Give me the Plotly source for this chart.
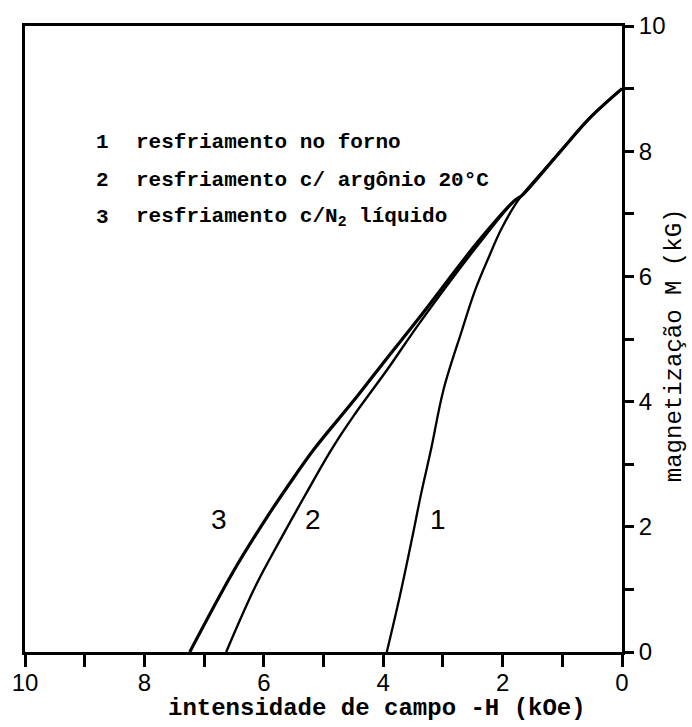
import plotly.graph_objects as go

# Demagnetization curves: field -H (kOe) vs magnetization M (kG)
h_forno = [3.94, 3.72, 3.52, 3.36, 3.20, 2.99, 2.68, 2.46, 2.23, 2.03, 1.80, 1.68, 1.02, 0.53, 0.0]
m_forno = [0.00, 0.90, 1.80, 2.55, 3.23, 4.19, 5.14, 5.78, 6.31, 6.74, 7.13, 7.29, 8.01, 8.54, 9.0]

h_argonio = [6.63, 6.14, 5.69, 5.31, 4.87, 4.49, 3.94, 3.38, 2.39, 1.80, 1.68, 1.02, 0.53, 0.0]
m_argonio = [0.00, 1.05, 1.85, 2.50, 3.23, 3.78, 4.50, 5.27, 6.53, 7.21, 7.29, 8.01, 8.54, 9.0]

h_n2 = [7.24, 6.52, 5.97, 5.59, 5.15, 4.49, 3.94, 3.38, 2.39, 1.80, 1.68, 1.02, 0.53, 0.0]
m_n2 = [0.00, 1.27, 2.12, 2.66, 3.25, 4.02, 4.69, 5.36, 6.58, 7.21, 7.29, 8.01, 8.54, 9.0]

curve_labels = ["1", "2", "3"]
curve_label_h = [3.09, 5.18, 6.75]
curve_label_m = [2.12, 2.12, 2.12]

legend_numbers = ["1", "2", "3"]
legend_texts = [
    "resfriamento no forno",
    "resfriamento c/ argônio 20°C",
    "resfriamento c/N<sub>2</sub> líquido",
]
legend_m = [8.14, 7.53, 6.94]

x_title = "intensidade de campo -H (kOe)"
y_title = "magnetização M (kG)"

mono = "Liberation Mono"
sans = "Liberation Sans"

fig = go.Figure()
for h, m, w in [(h_forno, m_forno, 2.3), (h_argonio, m_argonio, 2.4), (h_n2, m_n2, 3.2)]:
    fig.add_trace(go.Scatter(
        x=h, y=m, mode="lines",
        line=dict(color="black", width=w, shape="spline", smoothing=1.0),
        showlegend=False, hoverinfo="skip",
    ))

annotations = []
for lab, h, m in zip(curve_labels, curve_label_h, curve_label_m):
    annotations.append(dict(x=h, y=m, xref="x", yref="y", text=lab, showarrow=False,
                            font=dict(family=sans, size=28, color="black")))

for num, txt, m in zip(legend_numbers, legend_texts, legend_m):
    annotations.append(dict(x=8.70, y=m, xref="x", yref="y", text="<b>" + num + "</b>",
                            showarrow=False, xanchor="center",
                            font=dict(family=mono, size=21, color="black")))
    annotations.append(dict(x=8.17, y=m, xref="x", yref="y", text="<b>" + txt + "</b>",
                            showarrow=False, xanchor="left",
                            font=dict(family=mono, size=21, color="black")))

annotations.append(dict(x=0.59, y=-0.091, xref="paper", yref="paper", text="<b>" + x_title + "</b>",
                        showarrow=False, xanchor="center", yanchor="middle",
                        font=dict(family=mono, size=24, color="black")))
annotations.append(dict(x=1.087, y=0.49, xref="paper", yref="paper", text=y_title,
                        showarrow=False, textangle=-90, xanchor="center", yanchor="middle",
                        font=dict(family=mono, size=24, color="black")))

axis_common = dict(
    showline=True, linecolor="black", linewidth=3, mirror=True,
    showgrid=False, zeroline=False, ticks="outside", tickcolor="black",
    tickwidth=2.5, dtick=2, tick0=0,
    tickfont=dict(family=sans, size=24, color="black"),
)

fig.update_layout(
    width=692, height=727,
    margin=dict(l=16, r=70, t=25, b=75),
    paper_bgcolor="white", plot_bgcolor="white",
    xaxis=dict(range=[10, 0], ticklen=12, ticklabelstandoff=-5,
               minor=dict(dtick=1, ticks="outside", ticklen=12, tickwidth=2.5, tickcolor="black"),
               **axis_common),
    yaxis=dict(range=[0, 10], side="right", ticklen=9,
               minor=dict(dtick=1, ticks="outside", ticklen=9, tickwidth=2.5, tickcolor="black"),
               **axis_common),
    annotations=annotations,
)

fig.write_html("out.html")
